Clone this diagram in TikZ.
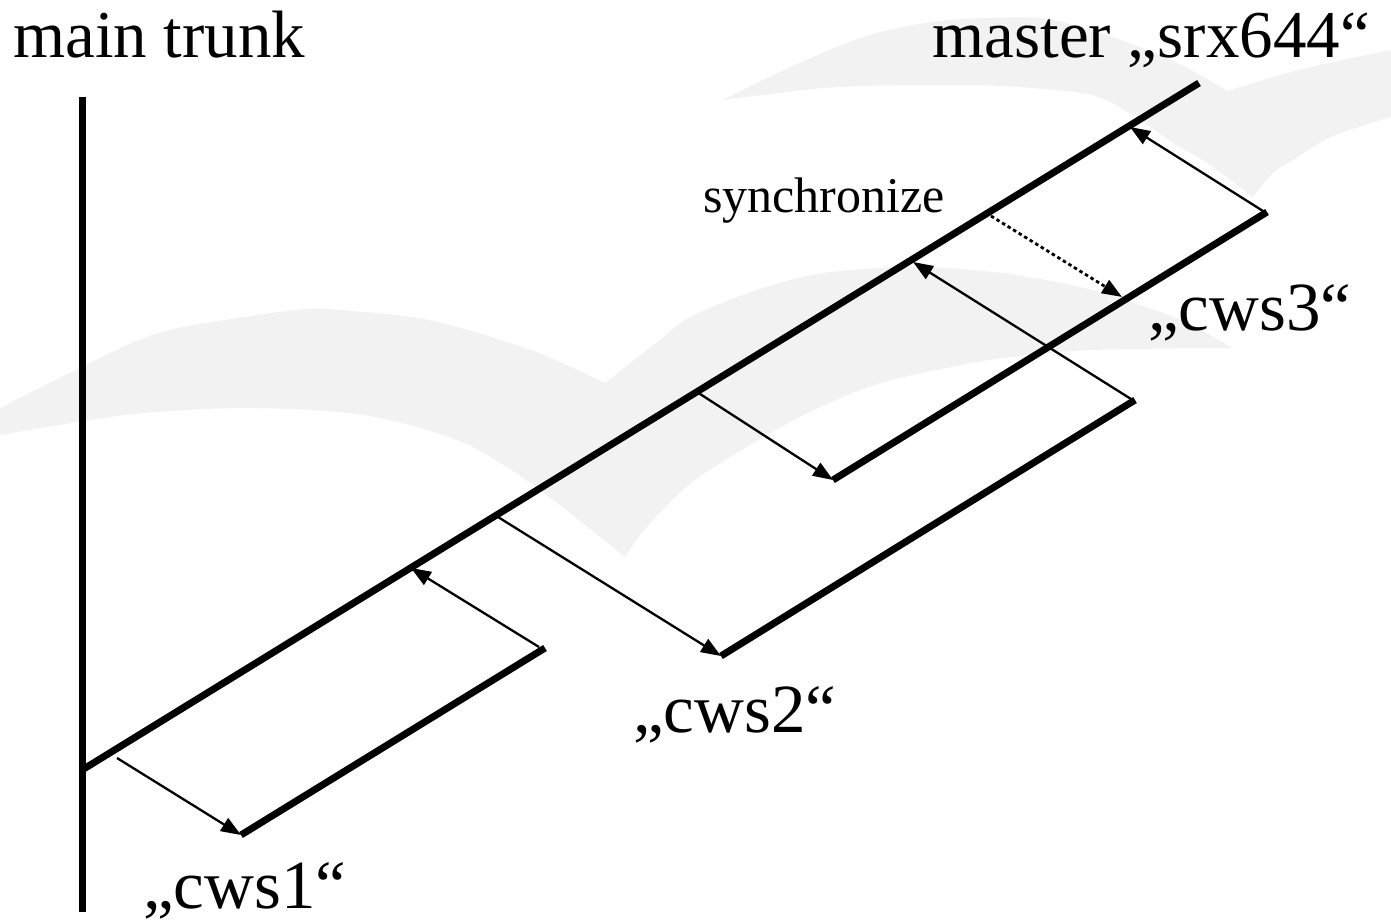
\documentclass[tikz,border=0pt]{standalone}
\usepackage{fontspec}
\setmainfont{Liberation Serif}
\usetikzlibrary{arrows.meta}
\definecolor{swooshgray}{RGB}{242,242,242}
\begin{document}
\begin{tikzpicture}[x=1pt,y=-1pt,
  branchline/.style={line width=7pt,line cap=butt},
  flowarrow/.style={line width=2.3pt,-{Triangle[length=20pt,width=15pt]}},
  syncarrow/.style={flowarrow,line width=2.8pt,dash pattern=on 3.5pt off 3pt},
  bigtext/.style={font=\fontsize{69}{80}\selectfont,inner sep=0pt},
  titletext/.style={font=\fontsize{67}{78}\selectfont,inner sep=0pt},
  smalltext/.style={font=\fontsize{50}{60}\selectfont,inner sep=0pt},
  swoosh/.style={fill=swooshgray,draw=none}]
\useasboundingbox (0,0) rectangle (1391,921);

% background watermark swooshes
\fill[swoosh]
  plot[smooth] coordinates {(0,408) (76,370) (134,342) (183,327) (295,310) (339,310) (429,320) (531,350) (605,383)}
  -- plot[smooth] coordinates {(605,383) (656,343) (690,317) (757,290) (824,273) (913,267) (1002,273) (1092,290) (1181,320) (1232,348)}
  -- plot[smooth] coordinates {(1232,348) (1092,350) (1002,358) (913,375) (860,390) (788,423) (695,480) (647,527) (625,557)}
  -- plot[smooth] coordinates {(625,557) (536,487) (469,445) (402,423) (339,412) (237,408) (125,415) (0,435)}
  -- cycle;
\fill[swoosh]
  plot[smooth] coordinates {(723,100) (763,80) (813,57) (863,37) (913,25) (963,19) (1040,18) (1100,33) (1167,58) (1228,91)}
  -- plot[smooth] coordinates {(1228,91) (1280,75) (1320,65) (1391,50)}
  -- (1391,117)
  -- plot[smooth] coordinates {(1391,117) (1333,136) (1293,160) (1273,173) (1253,197)}
  -- plot[smooth] coordinates {(1253,197) (1207,163) (1173,143) (1140,120) (1092,95) (1002,86) (913,85) (824,88) (723,100)}
  -- cycle;

% coordinates
\coordinate (trunkTop) at (82,97);
\coordinate (trunkBot) at (82,912);
\coordinate (mStart) at (82,770);
\coordinate (mEnd) at (1199,83);
\coordinate (c1a) at (241,835);
\coordinate (c1b) at (545,648);
\coordinate (c2a) at (721,656);
\coordinate (c2b) at (1135,400);
\coordinate (c3a) at (833,480);
\coordinate (c3b) at (1267,212);
\coordinate (o1) at (117,758);
\coordinate (r1) at (411,568);
\coordinate (o2) at (498,517);
\coordinate (r2) at (913,262);
\coordinate (o3) at (697,392);
\coordinate (r3) at (1130,127);
\coordinate (s0) at (991,216);
\coordinate (s1) at (1122,297);
\coordinate (e1) at (539,647);
\coordinate (e2) at (1131,399);
\coordinate (e3) at (1263,211);

% main trunk and master
\draw[branchline] (trunkTop) -- (trunkBot);
\draw[branchline] (mStart) -- (mEnd);

% branches
\draw[branchline] (c1a) -- (c1b);
\draw[branchline] (c2a) -- (c2b);
\draw[branchline] (c3a) -- (c3b);

% arrows
\draw[flowarrow] (o1) -- (c1a);
\draw[flowarrow] (e1) -- (r1);
\draw[flowarrow] (o2) -- (c2a);
\draw[flowarrow] (e2) -- (r2);
\draw[flowarrow] (o3) -- (c3a);
\draw[flowarrow] (e3) -- (r3);
\draw[syncarrow] (s0) -- (s1);

% labels
\node[titletext,anchor=base west] (lTrunk) at (13,57) {main trunk};
\node[titletext,anchor=base east] (lMaster) at (1370,57) {master „srx644“};
\node[smalltext,anchor=base west] (lSync) at (703,212) {synchronize};
\node[bigtext,anchor=base west] (lC1) at (143,908) {„cws1“};
\node[bigtext,anchor=base west] (lC2) at (633,732) {„cws2“};
\node[bigtext,anchor=base west] (lC3) at (1148,330) {„cws3“};
\end{tikzpicture}
\end{document}
